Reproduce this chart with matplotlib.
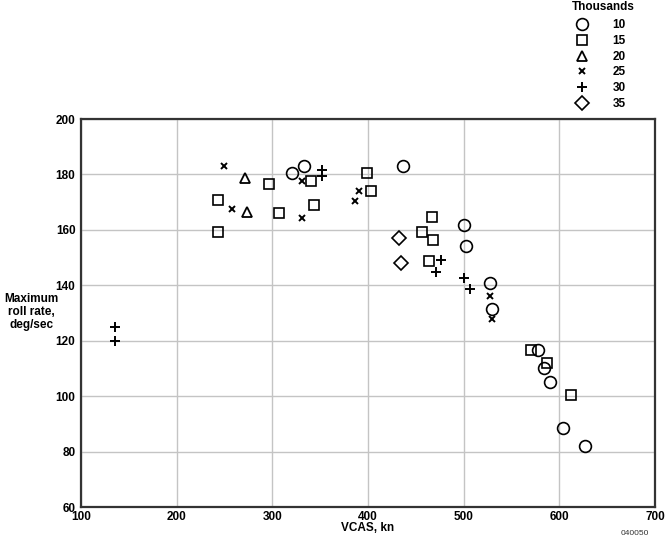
import matplotlib.pyplot as plt

plt.rcParams['font.family'] = ['Liberation Sans', 'DejaVu Sans']
plt.rcParams['font.weight'] = 'bold'

# altitude groups (thousands of ft)
alt_labels = ['10', '15', '20', '25', '30', '35']

# 10k
vcas_10 = [321, 333, 437, 500, 502, 527, 530, 578, 584, 590, 604, 627]
roll_10 = [180.5, 183, 183, 161.7, 154.2, 141, 131.5, 116.5, 110, 105, 88.5, 82]
# 15k
vcas_15 = [243, 243, 297, 307, 340, 344, 399, 403, 467, 456, 468, 464, 570, 587, 612]
roll_15 = [170.8, 159.2, 176.5, 166, 177.6, 168.9, 180.5, 174, 164.6, 159.2, 156.3, 148.8, 116.5, 112, 100.5]
# 20k
vcas_20 = [271, 273]
roll_20 = [178.7, 166.4]
# 25k
vcas_25 = [249, 258, 331, 331, 391, 386, 527, 530]
roll_25 = [183, 167.5, 177.6, 164.3, 174, 170.4, 136, 128]
# 30k
vcas_30 = [136, 136, 352, 352, 476, 471, 500, 507]
roll_30 = [125, 119.8, 181.7, 179.4, 149.3, 144.8, 142.6, 138.6]
# 35k
vcas_35 = [432, 434]
roll_35 = [157, 148]

series = [
    (vcas_10, roll_10, dict(marker='o', ms=8.5, mew=1.2, mfc='none')),
    (vcas_15, roll_15, dict(marker='s', ms=7.8, mew=1.2, mfc='none')),
    (vcas_20, roll_20, dict(marker='^', ms=6.5, mew=1.3, mfc='none')),
    (vcas_25, roll_25, dict(marker='x', ms=4.5, mew=1.4)),
    (vcas_30, roll_30, dict(marker='+', ms=6.5, mew=1.4)),
    (vcas_35, roll_35, dict(marker='D', ms=7.5, mew=1.2, mfc='none')),
]

fig = plt.figure(figsize=(6.65, 5.38), dpi=100)
ax = fig.add_axes([0.1218, 0.0576, 0.8632, 0.7212])

handles = []
for (xs, ys, style), lab in zip(series, alt_labels):
    h, = ax.plot(xs, ys, linestyle='none', color='black', mec='black', label=lab, **style)
    handles.append(h)

ax.set_xlim(100, 700)
ax.set_ylim(60, 200)
ax.set_xticks(range(100, 701, 100))
ax.set_yticks(range(60, 201, 20))
ax.grid(True, color='#c4c4c4', linewidth=1.0)
ax.set_axisbelow(True)
for sp in ax.spines.values():
    sp.set_linewidth(1.6)
    sp.set_color('#333333')
ax.tick_params(length=0, labelsize=8.5)
ax.tick_params(axis='x', pad=3)
ax.tick_params(axis='y', pad=4)
for t in ax.get_xticklabels() + ax.get_yticklabels():
    t.set_fontweight('bold')

ax.set_xlabel('VCAS, kn', fontsize=8.5, fontweight='bold', labelpad=-1)
fig.text(0.047, 0.42, 'Maximum\nroll rate,\ndeg/sec', ha='center', va='center',
         fontsize=8.5, fontweight='bold', linespacing=1.15)
fig.text(0.955, 0.008, '040050', fontsize=6, ha='center', va='center', color='#333333',
         fontweight='normal')

# legend title drawn separately so its gap to the entries can be set
fig.text(0.907, 0.987, 'Thousands', ha='center', va='center', fontsize=8.5, fontweight='bold')
leg = fig.legend(handles=handles, loc='upper left', bbox_to_anchor=(0.851, 0.982),
                 frameon=False, fontsize=8.5, labelspacing=0.32,
                 handletextpad=1.95, handlelength=1.2, borderpad=0.3)
for t in leg.get_texts():
    t.set_fontweight('bold')

fig.savefig('out.png', dpi=100)
